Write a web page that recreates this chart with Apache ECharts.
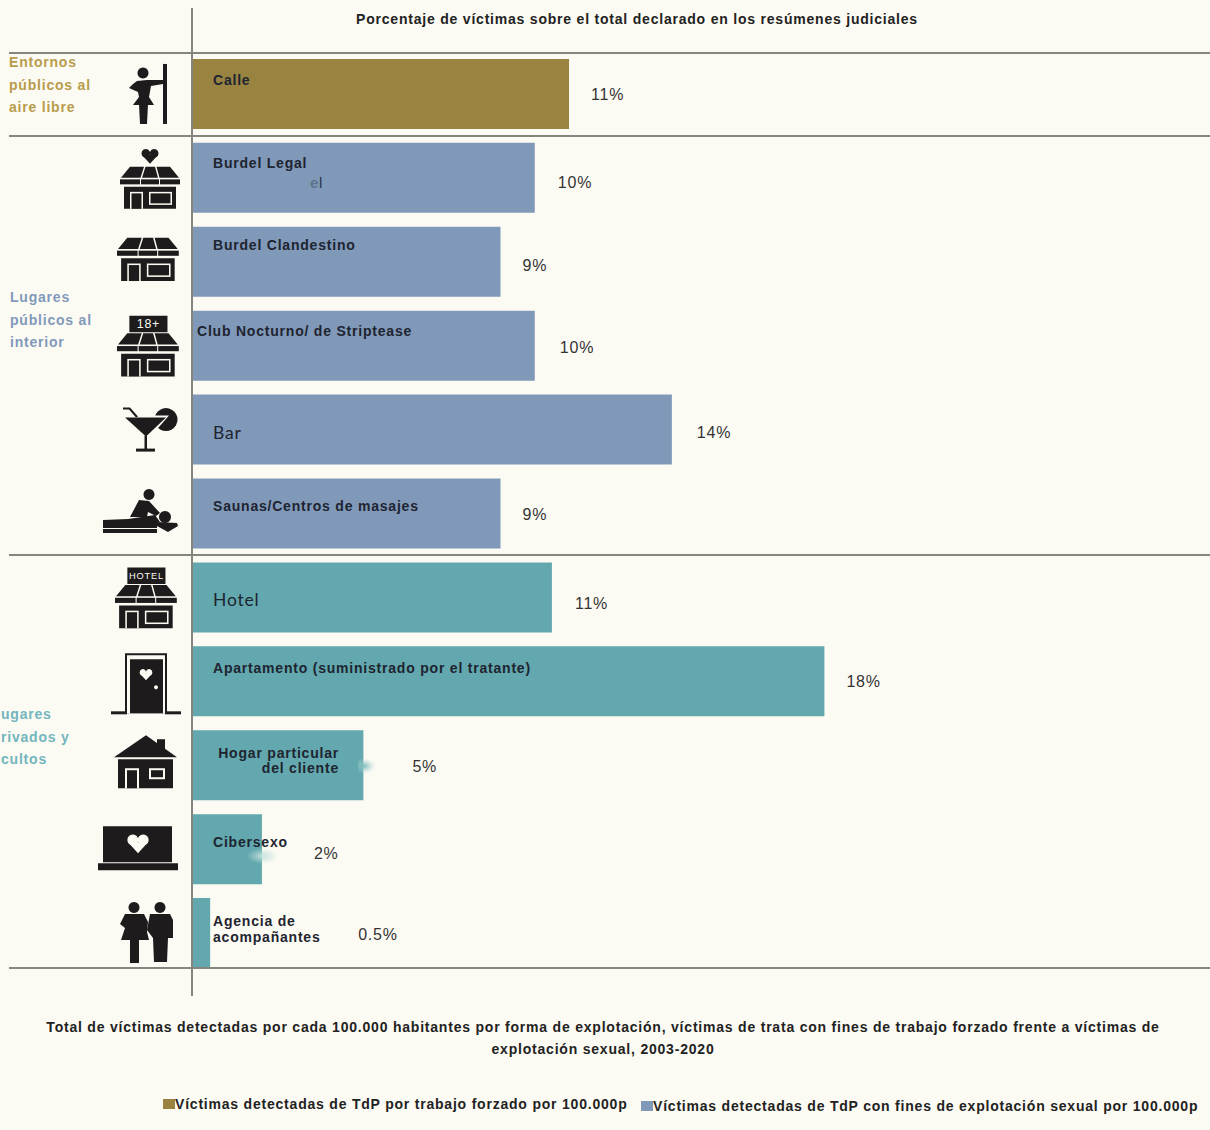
<!DOCTYPE html>
<html lang="es">
<head>
<meta charset="utf-8">
<title>Porcentaje de víctimas</title>
<script src="https://cdn.jsdelivr.net/npm/echarts@6/dist/echarts.min.js"></script>
<style>
  html, body { margin: 0; padding: 0; background: #fcfbf3; overflow: hidden; }
  #chart { width: 1210px; height: 1130px; }
  /* canvas text has no tracking option, so the svg renderer + css does it */
  #chart svg text { letter-spacing: .79px; }
</style>
</head>
<body>
<div id="chart"></div>
<script>
  const categories = ["Calle", "Burdel Legal", "Burdel Clandestino", "Club Nocturno/ de Striptease", "Bar",
    "Saunas/Centros de masajes", "Hotel", "Apartamento (suministrado por el tratante)",
    "Hogar particular\ndel cliente", "Cibersexo", "Agencia de\nacompañantes"];
  const shares = [11, 10, 9, 10, 14, 9, 10.5, 18.45, 5, 2.04, 0.53];
  const shareLabels = ["11%", "10%", "9%", "10%", "14%", "9%", "11%", "18%", "5%", "2%", "0.5%"];
  const groupOf = [0, 1, 1, 1, 1, 1, 2, 2, 2, 2, 2];
  const groupNames = ["Víctimas detectadas de TdP por trabajo forzado por 100.000p",
    "Víctimas detectadas de TdP con fines de explotación sexual por 100.000p", "Lugares privados"];
  const groupHeads = ["Entornos\npúblicos al\naire libre", "Lugares\npúblicos al\ninterior", "ugares\nrivados y\ncultos"];
  const chartTitle = "Porcentaje de víctimas sobre el total declarado en los resúmenes judiciales";
  const noteText = "Total de víctimas detectadas por cada 100.000 habitantes por forma de explotación, víctimas de trata con fines de trabajo forzado frente a víctimas de\nexplotación sexual, 2003-2020";

  const BG = "#fcfbf3";
  const INK = "#1d1b1c";
  const groupColors = ["#998341", "#8099b9", "#62a8ae"];
  const headColors = ["#b89c4c", "#8199bb", "#72b5bd"];

  // [x from bar start, y of text centre from bar top]
  const namePos = [[21, 21], [21, 20], [21, 18], [5, 20], [21, 38], [21, 27], [21, 37], [21, 22], [147, 30], [21, 28], [21, 31]];
  // [gap after bar end, y shift]
  const shareNudge = [[22, 1], [23, 5], [22, 4], [25, 2], [25, 3], [22, 1], [23, 6], [22, 0], [49, 1], [52, 4], [148, 1]];

  const roomy = new Set(["Bar", "Hotel"]);

  function shop(y, extra) {
    return [
      ["p", [[10, y], [24, y], [20.5, y + 11], [1, y + 11]]],
      ["p", [[25.5, y], [35, y], [38, y + 11], [22, y + 11]]],
      ["p", [[36.5, y], [50, y], [59, y + 11], [39.5, y + 11]]],
      ["r", 0, y + 12.5, 20, 5], ["r", 21, y + 12.5, 18, 5], ["r", 40, y + 12.5, 20, 5],
      ["r", 4, y + 20, 52, 22],
      ["r", 10, y + 25, 13, 17, BG], ["r", 11.5, y + 26.5, 10, 15.5],
      ["r", 29, y + 25, 23, 13, BG], ["r", 30.5, y + 26.5, 20, 10]
    ].concat(extra || []);
  }
  function heart(cx, cy, s, fill) {
    return [
      ["c", cx - s * 0.26, cy - s * 0.16, s * 0.27, fill],
      ["c", cx + s * 0.26, cy - s * 0.16, s * 0.27, fill],
      ["p", [[cx - s * 0.5, cy - s * 0.05], [cx + s * 0.5, cy - s * 0.05], [cx, cy + s * 0.5]], fill]
    ];
  }

  // one icon per category: offset from the axis and bar centre, then its shapes
  const icons = [
    { at: [-63, -30], parts: [
      ["r", 34, 0, 4, 60], ["c", 14, 9, 5.5],
      ["p", [[8, 17], [18, 16], [34, 16], [34, 20], [22, 22], [20, 33], [25, 41], [4, 41], [10, 33], [9, 28], [0, 24], [4, 20]]],
      ["p", [[10, 40], [19, 40], [18, 60], [11, 60]]]
    ] },
    { at: [-72, -29], parts: heart(30, 7, 16).concat(shop(18)) },
    { at: [-75, -24], scale: 1.03, parts: shop(0) },
    { at: [-75, -30], scale: 1.03, parts: [["r", 12, 0, 37, 16], ["t", 30.5, 8.5, "18+", 12]].concat(shop(17)) },
    { at: [-69, -22], parts: [
      ["c", 43, 12, 11.5],
      ["p", [[0, 8], [46, 8], [25, 32]], BG],
      ["p", [[2, 10], [43, 10], [23, 29]]],
      ["r", 21.5, 28, 2.5, 14], ["r", 13, 41, 19, 3],
      ["p", [[0, 0], [7, 0], [15, 9], [13, 10], [6, 2], [0, 2]]]
    ] },
    { at: [-89, -24.5], parts: [
      ["c", 46, 5.5, 5.5], ["c", 62, 28, 6],
      ["p", [[36, 11], [46, 12], [57, 24], [53, 27], [45, 23], [44, 28], [27, 28]]],
      ["p", [[25, 30], [52, 26], [57, 33], [0, 38], [0, 31]]],
      ["r", 0, 31, 54, 8], ["r", 0, 40, 54, 4],
      ["p", [[54, 33], [74, 34], [75, 37], [65, 43], [54, 37]]]
    ] },
    { at: [-77, -30], scale: 1.03, parts: [["r", 12, 0, 37, 16], ["t", 30.5, 8.5, "HOTEL", 9]].concat(shop(17)) },
    { at: [-81, -28], parts: [
      ["r", 14, 0, 42, 60], ["r", 16, 2, 38, 58, BG], ["r", 19, 6, 33, 54],
      ["r", 0, 58, 16, 3], ["r", 54, 58, 16, 3]
    ].concat(heart(35, 21, 12, BG), [["c", 45, 34, 2, BG]]) },
    { at: [-78, -30], parts: [
      ["r", 43, 4, 8, 12],
      ["p", [[32, 0], [63, 22], [0, 22]]],
      ["r", 4, 24, 55, 29],
      ["r", 11, 33, 14, 20, BG], ["r", 13, 35, 10, 18],
      ["r", 35, 33, 16, 11, BG], ["r", 37, 35, 12, 7]
    ] },
    { at: [-94, -23], parts: [
      ["r", 5, 0, 69, 36], ["r", 0, 37, 80, 7]
    ].concat(heart(40, 17, 20, BG)) },
    { at: [-72, -31], parts: [
      ["c", 14, 5.5, 5.5], ["c", 40, 5.5, 5.5],
      ["p", [[5, 12], [24, 12], [28, 20], [27, 30], [29, 38], [1, 38], [5, 26], [0, 22]]],
      ["r", 10, 36, 9, 25],
      ["p", [[30, 12], [50, 12], [53, 18], [53, 36], [48, 36], [47, 60], [34, 60], [33, 36], [27, 28]]]
    ] }
  ];

  function iconChildren(parts) {
    return parts.map((p) => {
      if (p[0] === "r") return { type: "rect", shape: { x: p[1], y: p[2], width: p[3], height: p[4] }, style: { fill: p[5] || INK } };
      if (p[0] === "c") return { type: "circle", shape: { cx: p[1], cy: p[2], r: p[3] }, style: { fill: p[4] || INK } };
      if (p[0] === "p") return { type: "polygon", shape: { points: p[1] }, style: { fill: p[2] || INK } };
      return { type: "text", style: { x: p[1], y: p[2], text: p[3], fill: BG, font: `${p[4]}px "Liberation Sans"`, align: "center", verticalAlign: "middle" } };
    });
  }

  function nameLabel(i) {
    const name = categories[i];
    const big = roomy.has(name);
    return {
      show: true,
      formatter: name,
      position: namePos[i],
      align: name.startsWith("Hogar") ? "right" : "left",
      verticalAlign: "middle",
      color: "#1e2430",
      lineHeight: name.startsWith("Hogar") ? 15 : 16,
      fontFamily: big ? "Lato" : "Liberation Sans",
      fontWeight: big ? "normal" : "bold",
      fontSize: big ? 17.5 : 14
    };
  }

  const groupSeries = groupNames.map((name, g) => ({
    name,
    type: "bar",
    barWidth: 70,
    barGap: "-100%",
    itemStyle: { color: groupColors[g] },
    data: shares.map((v, i) => (groupOf[i] === g ? { value: v, label: nameLabel(i) } : null))
  }));

  const shareSeries = {
    name: "Porcentaje",
    type: "bar",
    barWidth: 70,
    barGap: "-100%",
    itemStyle: { color: "transparent" },
    z: 3,
    data: shares.map((v, i) => ({
      value: v,
      label: {
        show: true,
        formatter: shareLabels[i],
        position: "right",
        distance: shareNudge[i][0],
        offset: [0, shareNudge[i][1]],
        color: "#333",
        fontFamily: "Liberation Sans",
        fontSize: 16
      }
    }))
  };

  const iconSeries = {
    name: "Iconos",
    type: "custom",
    silent: true,
    data: categories.map((_, i) => [0, i]),
    encode: { x: 0, y: 1 },
    renderItem(params, api) {
      const icon = icons[params.dataIndex];
      const base = api.coord([0, params.dataIndex]);
      return {
        type: "group",
        x: base[0] + icon.at[0],
        y: base[1] + icon.at[1],
        scaleX: icon.scale || 1,
        scaleY: icon.scale || 1,
        children: iconChildren(icon.parts)
      };
    }
  };

  const headY = [59, 294, 711];
  const headX = [9, 10, 1];
  const ruleY = [53, 136, 555, 968];

  // retouching smears that sit on the source image
  function smudge(x, y, width, height, cx, color) {
    return {
      type: "rect", z: 10, shape: { x, y, width, height },
      style: { fill: { type: "radial", x: cx, y: 0.5, r: 0.5, colorStops: [{ offset: 0, color }, { offset: 1, color: "rgba(190,220,218,0)" }] } }
    };
  }

  const graphic = [
    { type: "line", z: 20, shape: { x1: 192, y1: 8, x2: 192, y2: 996 }, style: { stroke: "#858580", lineWidth: 2 } }
  ].concat(
    ruleY.map((y) => ({ type: "line", z: 20, shape: { x1: 9, y1: y, x2: 1210, y2: y }, style: { stroke: "#858580", lineWidth: 2 } })),
    groupHeads.map((text, g) => ({
      type: "text", z: 20, x: headX[g], y: headY[g] - 8,
      style: { text, fill: headColors[g], font: 'bold 14px "Liberation Sans"', lineHeight: 22.5 }
    })),
    [
      { type: "text", z: 20, x: 310, y: 175, style: { text: "e", fill: "rgba(40,50,70,.4)", font: 'bold 15px "Liberation Sans"' } },
      { type: "text", z: 20, x: 319, y: 175, style: { text: "l", fill: "#2a3243", font: '15px "Liberation Sans"' } },
      smudge(358, 758, 22, 16, 0.3, "rgba(120,185,188,.95)"),
      smudge(248, 848, 32, 16, 0.45, "rgba(195,225,222,.95)")
    ]
  );

  const titleFont = { fontFamily: "Liberation Sans", fontSize: 14, fontWeight: "bold", color: "#222" };
  const legendFont = { fontFamily: "Liberation Sans", fontSize: 14, fontWeight: "bold", color: "#222", padding: [0, 0, 0, -5] };

  const chart = echarts.init(document.getElementById("chart"), null, { renderer: "svg" });
  chart.setOption({
    animation: false,
    backgroundColor: BG,
    title: [
      { text: chartTitle, left: 637, top: 12, textAlign: "center", padding: 0, textStyle: titleFont },
      { text: noteText, left: 603, top: 1016, textAlign: "center", padding: 0, textStyle: { ...titleFont, lineHeight: 22 } }
    ],
    legend: [
      { data: [groupNames[0]], left: 163, top: 1097, padding: 0, itemWidth: 12, itemHeight: 10, selectedMode: false, textStyle: legendFont, icon: "rect" },
      { data: [groupNames[1]], left: 641, top: 1099, padding: 0, itemWidth: 12, itemHeight: 10, selectedMode: false, textStyle: legendFont, icon: "rect" }
    ],
    grid: { left: 192, top: 52, width: 1018, height: 923 },
    xAxis: { type: "value", min: 0, max: 29.7, show: false },
    yAxis: { type: "category", data: categories, inverse: true, show: false },
    series: groupSeries.concat([shareSeries, iconSeries]),
    graphic
  });
</script>
</body>
</html>
